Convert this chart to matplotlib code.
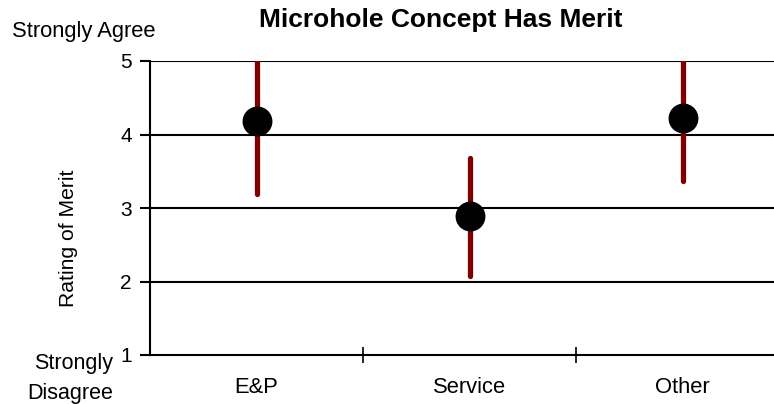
import matplotlib.pyplot as plt

plt.rcParams['font.family'] = ['Liberation Sans', 'DejaVu Sans']

groups = ['E&P', 'Service', 'Other']
mean_rating = [4.18, 2.89, 4.23]
low_rating = [3.19, 2.07, 3.37]
high_rating = [5.0, 3.68, 5.0]
y_ticks = [1, 2, 3, 4, 5]

fig = plt.figure(figsize=(7.74, 4.04), dpi=100)
# axes runs a little past the right edge of the figure
ax = fig.add_axes([150 / 774, 49 / 404, 639 / 774, 294 / 404])

x = list(range(len(groups)))
for yv in y_ticks[1:]:
    ax.axhline(yv, color='black', lw=1.5, zorder=1)

ax.vlines(x, low_rating, high_rating, color='#800000', lw=3.8,
          capstyle='round', zorder=2)
ax.plot(x, mean_rating, 'o', color='black', markersize=20.5, zorder=3)

ax.set_xlim(-0.5, 2.5)
ax.set_ylim(1, 5)
ax.set_yticks(y_ticks)
ax.set_yticklabels([str(v) for v in y_ticks], fontsize=15)
ax.set_xticks([0.5, 1.5])
ax.set_xticklabels([])
ax.tick_params(axis='x', direction='inout', length=12, width=1.2)
ax.tick_params(axis='y', direction='out', length=7, width=1.5, pad=6)

for i, g in enumerate(groups):
    ax.text(i, -0.11, g, transform=ax.get_xaxis_transform(),
            ha='center', va='center', fontsize=15.8)

for side in ['top', 'right']:
    ax.spines[side].set_visible(False)
for side in ['left', 'bottom']:
    ax.spines[side].set_linewidth(1.5)

ax.set_ylabel('Rating of Merit', fontsize=15.2)
ax.yaxis.set_label_coords(-82 / 639, (355 - 238) / 294)
ax.yaxis.label.set_va('center')

fig.text(441 / 774, 1 - 20 / 404, 'Microhole Concept Has Merit',
         ha='center', va='center', fontsize=19, fontweight='bold')
fig.text(84 / 774, 1 - 32 / 404, 'Strongly Agree', ha='center', va='center',
         fontsize=15.8)
fig.text(113 / 774, 1 - 363 / 404, 'Strongly', ha='right', va='center',
         fontsize=15.5)
fig.text(113 / 774, 1 - 393 / 404, 'Disagree', ha='right', va='center',
         fontsize=15.5)

fig.savefig('out.png', dpi=100)
